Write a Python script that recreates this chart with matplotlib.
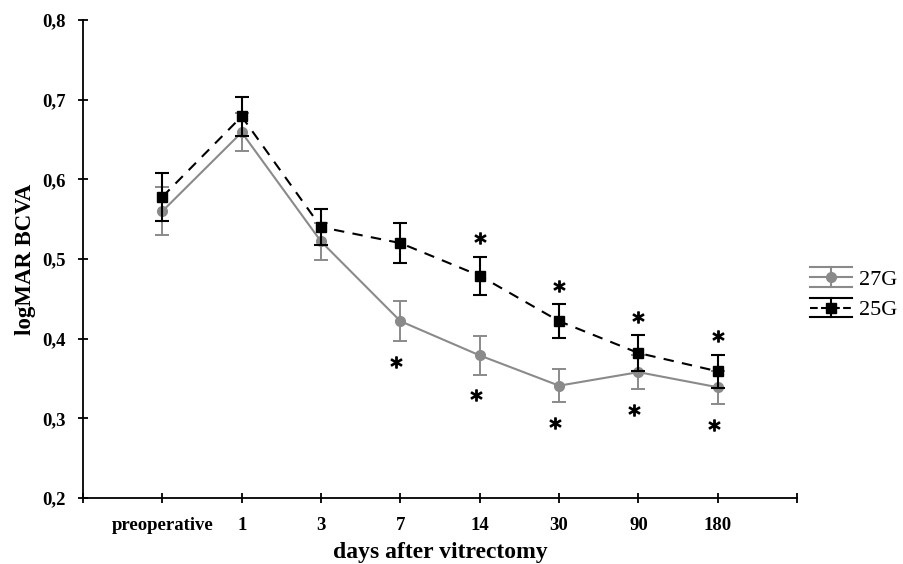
import numpy as np
import matplotlib
matplotlib.use('Agg')
from matplotlib import pyplot as plt
from matplotlib.lines import Line2D
from matplotlib.legend_handler import HandlerBase

categories = ['preoperative', '1', '3', '7', '14', '30', '90', '180']

g27 = [0.560, 0.659, 0.522, 0.422, 0.379, 0.341, 0.358, 0.339]
g27_err = [0.030, 0.024, 0.023, 0.025, 0.024, 0.021, 0.021, 0.021]

g25 = [0.578, 0.679, 0.540, 0.520, 0.479, 0.422, 0.382, 0.359]
g25_err = [0.030, 0.025, 0.023, 0.025, 0.024, 0.021, 0.022, 0.021]

# significance marks: above the 25G bar / below the 27G bar
star_above = ['14', '30', '90', '180']
star_below = ['7', '14', '30', '90', '180']

plt.rcParams['font.family'] = ['Liberation Serif', 'DejaVu Serif']


class ErrHandler(HandlerBase):
    ''' legend key like the excel one: wide caps above and below the line '''
    def create_artists(self, legend, orig, xd, yd, width, height, fontsize, trans):
        color = orig.get_color()
        lw = orig.get_linewidth()
        y0 = height / 2 - yd
        dy = height * 0.62
        x0, x1 = -xd, width - xd
        xm = (x0 + x1) / 2
        line = Line2D([x0, x1], [y0, y0], color=color, lw=lw, ls=orig.get_linestyle(),
                      transform=trans)
        mk = Line2D([xm], [y0], color=color, marker=orig.get_marker(),
                    markersize=orig.get_markersize(), transform=trans)
        vbar = Line2D([xm, xm], [y0 - dy, y0 + dy], color=color, lw=lw, transform=trans)
        top = Line2D([x0, x1], [y0 + dy, y0 + dy], color=color, lw=lw, transform=trans)
        bot = Line2D([x0, x1], [y0 - dy, y0 - dy], color=color, lw=lw, transform=trans)
        return [top, bot, vbar, line, mk]


fig = plt.figure(figsize=(9.04, 5.64), dpi=100)
ax = fig.add_axes([0.0918, 0.117, 0.790, 0.8475])

x = np.arange(len(categories))
gray = '#8a8a8a'

ax.errorbar(x, g27, yerr=g27_err, color=gray, marker='o', markersize=7,
            linewidth=1.5, capsize=5, elinewidth=1.4, capthick=1.4, zorder=3)
ax.errorbar(x, g25, yerr=g25_err, color='black', marker='s', markersize=7,
            linewidth=1.5, linestyle=(0, (5, 4)), capsize=5, elinewidth=1.5,
            capthick=1.5, zorder=4)

idx_a = [categories.index(c) for c in star_above]
ya = [g25[i] + g25_err[i] + 0.023 for i in idx_a]
ax.plot(idx_a, ya, linestyle='none', marker='$*$', markersize=8, color='black')
idx_b = [categories.index(c) for c in star_below]
yb = [g27[i] - g27_err[i] - 0.026 for i in idx_b]
ax.plot([i - 0.05 for i in idx_b], yb, linestyle='none', marker='$*$', markersize=8, color='black')

ax.set_xlim(-1, len(categories))
ax.set_ylim(0.2, 0.8)
ax.set_xticks(np.arange(-1, len(categories) + 1))
ax.set_xticklabels([''] + categories + [''])
ax.set_yticks(np.arange(0.2, 0.81, 0.1))
ax.set_yticklabels([('%.1f' % v).replace('.', ',') for v in np.arange(0.2, 0.81, 0.1)])

for s in ['top', 'right']:
    ax.spines[s].set_visible(False)
for s in ['left', 'bottom']:
    ax.spines[s].set_linewidth(1.3)
ax.tick_params(direction='inout', length=7, width=1.3)
ax.tick_params(axis='x', pad=10)
ax.tick_params(axis='y', pad=9)
for lab in ax.get_xticklabels() + ax.get_yticklabels():
    lab.set_fontweight('bold')
    lab.set_fontsize(13.5)

ax.set_xlabel('days after vitrectomy', fontsize=17, fontweight='bold', labelpad=6)
ax.set_ylabel('logMAR BCVA', fontsize=16.5, fontweight='bold', labelpad=4)

h27 = Line2D([], [], color=gray, marker='o', markersize=7, lw=1.5)
h25 = Line2D([], [], color='black', marker='s', markersize=7, lw=1.5, ls=(0, (3, 2)))
ax.legend([h27, h25], ['27G', '25G'], handler_map={Line2D: ErrHandler()},
          loc='center left', bbox_to_anchor=(0.99, 0.425), frameon=False,
          fontsize=16, handlelength=1.9, handletextpad=0.3, labelspacing=0.45)

plt.savefig('out.png', dpi=100)
